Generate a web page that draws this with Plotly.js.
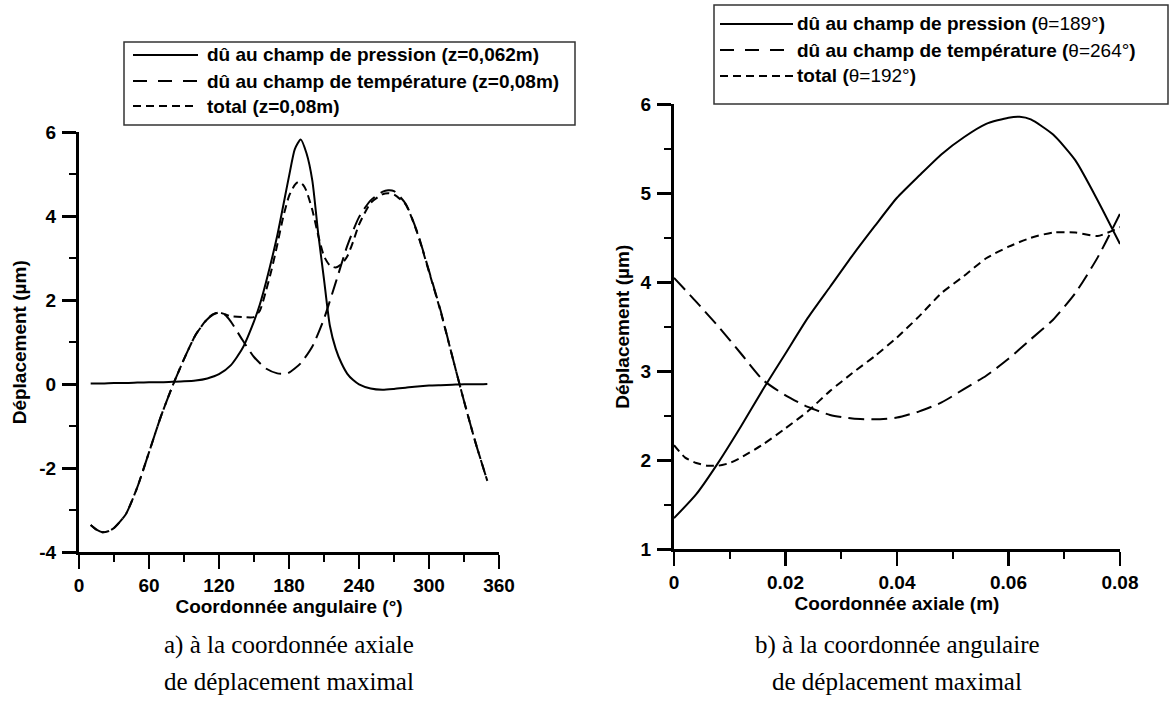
<!DOCTYPE html>
<html>
<head>
<meta charset="utf-8">
<script src="https://cdn.plot.ly/plotly-3.0.1.min.js"></script>
<style>html,body{margin:0;padding:0;background:#fff;}#chart{width:1170px;height:702px;}</style>
</head>
<body>
<div id="chart"></div>
<script>
// ---------- Data: (a) angular coordinate ----------
const angPressX = [10,20,30,40,50,60,70,80,90,100,110,120,130,140,150,155,160,170,180,185,190,195,200,205,210,215,220,225,230,235,240,250,260,270,280,290,300,310,320,330,340,350];
const angPressY = [0.02,0.02,0.03,0.03,0.04,0.05,0.05,0.06,0.07,0.09,0.14,0.24,0.45,0.85,1.5,1.9,2.4,3.55,4.95,5.6,5.83,5.5,4.85,3.6,2.5,1.4,0.85,0.5,0.25,0.1,0.0,-0.1,-0.13,-0.11,-0.08,-0.05,-0.03,-0.02,-0.01,0.0,0.0,0.01];

const angTempX = [10,15,20,25,30,40,50,60,70,80,90,100,110,115,120,125,130,140,150,160,170,175,180,190,200,210,220,230,240,250,260,265,270,280,290,300,310,320,330,340,350];
const angTempY = [-3.35,-3.46,-3.52,-3.5,-3.42,-3.1,-2.45,-1.62,-0.78,-0.05,0.6,1.18,1.55,1.66,1.71,1.66,1.5,1.06,0.65,0.38,0.26,0.25,0.28,0.5,0.9,1.56,2.42,3.3,3.98,4.38,4.58,4.62,4.6,4.3,3.62,2.7,1.75,0.66,-0.4,-1.4,-2.3];

const angTotalX = [10,15,20,25,30,40,50,60,70,80,90,100,110,115,120,125,130,140,150,155,160,165,170,175,180,185,188,192,195,200,205,210,215,220,225,230,235,240,250,260,265,270,280,290,300,310,320,330,340,350];
const angTotalY = [-3.35,-3.46,-3.52,-3.5,-3.42,-3.1,-2.45,-1.62,-0.78,-0.05,0.6,1.18,1.56,1.67,1.71,1.67,1.62,1.6,1.6,1.75,2.2,2.72,3.33,3.98,4.48,4.75,4.82,4.75,4.6,4.15,3.55,3.05,2.83,2.78,2.86,3.05,3.4,3.8,4.32,4.52,4.55,4.52,4.28,3.6,2.68,1.73,0.66,-0.4,-1.4,-2.3];

// ---------- Data: (b) axial coordinate ----------
const axPressX = [0,0.004,0.008,0.012,0.016,0.02,0.024,0.028,0.032,0.036,0.04,0.044,0.048,0.052,0.056,0.06,0.062,0.064,0.068,0.072,0.076,0.08];
const axPressY = [1.35,1.62,1.98,2.38,2.8,3.2,3.6,3.95,4.3,4.63,4.95,5.2,5.44,5.63,5.78,5.85,5.86,5.83,5.66,5.37,4.92,4.43];

const axTempX = [0,0.004,0.008,0.012,0.016,0.02,0.024,0.028,0.032,0.036,0.04,0.044,0.048,0.052,0.056,0.06,0.064,0.068,0.072,0.076,0.08];
const axTempY = [4.05,3.78,3.5,3.2,2.9,2.73,2.6,2.51,2.47,2.46,2.48,2.55,2.65,2.8,2.95,3.14,3.36,3.58,3.88,4.28,4.77];

const axTotalX = [0,0.002,0.004,0.006,0.008,0.01,0.012,0.016,0.02,0.024,0.028,0.032,0.036,0.04,0.044,0.048,0.052,0.056,0.06,0.064,0.068,0.072,0.076,0.08];
const axTotalY = [2.17,2.03,1.97,1.94,1.94,1.97,2.03,2.18,2.36,2.55,2.78,2.98,3.17,3.38,3.62,3.88,4.07,4.27,4.4,4.5,4.56,4.56,4.52,4.62];

// ---------- Tick labels ----------
const angTickVals = [0,60,120,180,240,300,360];
const angTickText = ["0","60","120","180","240","300","360"];
const dispATickVals = [-4,-2,0,2,4,6];
const dispATickText = ["-4","-2","0","2","4","6"];
const axTickVals = [0,0.02,0.04,0.06,0.08];
const axTickText = ["0","0.02","0.04","0.06","0.08"];
const dispBTickVals = [1,2,3,4,5,6];
const dispBTickText = ["1","2","3","4","5","6"];

// ---------- Text ----------
const legendA = ["dû au champ de pression (z=0,062m)", "dû au champ de température (z=0,08m)", "total (z=0,08m)"];
const legendB = ["<b>dû au champ de pression (</b>θ=189°<b>)</b>", "<b>dû au champ de température (</b>θ=264°<b>)</b>", "<b>total (</b>θ=192°<b>)</b>"];
const captionA = ["a) à la coordonnée axiale", "de déplacement maximal"];
const captionB = ["b) à la coordonnée angulaire", "de déplacement maximal"];

// ---------- Layout helpers (pixel -> paper) ----------
const W = 1170, H = 702;
const X = p => p / W;
const Y = p => 1 - p / H;
const SANS = "'Liberation Sans', Arial, sans-serif";
const SERIF = "'Times New Roman', 'Liberation Serif', serif";
const bold19 = {family: SANS, size: 19, color: "#000", weight: 700};
const B = arr => arr.map(t => "<b>" + t + "</b>");

const DASH_LONG = "16px,7px";
const DASH_SHORT = "8px,5px";

function tr(x, y, name, dash, xa, ya) {
  return {x: x, y: y, name: name, type: "scatter", mode: "lines", xaxis: xa, yaxis: ya,
    line: {color: "#000", width: 2, dash: dash, shape: "spline", smoothing: 0.6}, showlegend: false, hoverinfo: "x+y"};
}

const traces = [
  tr(angPressX, angPressY, legendA[0], "solid", "x", "y"),
  tr(angTempX, angTempY, legendA[1], DASH_LONG, "x", "y"),
  tr(angTotalX, angTotalY, legendA[2], DASH_SHORT, "x", "y"),
  tr(axPressX, axPressY, "dû au champ de pression (θ=189°)", "solid", "x2", "y2"),
  tr(axTempX, axTempY, "dû au champ de température (θ=264°)", DASH_LONG, "x2", "y2"),
  tr(axTotalX, axTotalY, "total (θ=192°)", DASH_SHORT, "x2", "y2"),
];

function axisBase(extra) {
  return Object.assign({
    showgrid: false, zeroline: false, showline: true, linecolor: "#000", linewidth: 3,
    ticks: "outside", ticklen: 14, tickwidth: 2.5, tickcolor: "#000", tickmode: "array",
    tickfont: {family: SANS, size: 19, color: "#000", weight: 700}, mirror: false, fixedrange: true
  }, extra);
}

const shapes = [];
const annotations = [];

function legend(box, lineX0, lineX1, textX, rows, labels, bold) {
  shapes.push({type: "rect", xref: "paper", yref: "paper", x0: X(box[0]), x1: X(box[1]), y0: Y(box[3]), y1: Y(box[2]),
    line: {color: "#333", width: 1.5}, fillcolor: "rgba(0,0,0,0)"});
  const dashes = ["solid", "14px,11px", "8px,5px"];
  for (let i = 0; i < 3; i++) {
    shapes.push({type: "line", xref: "paper", yref: "paper", x0: X(lineX0), x1: X(lineX1), y0: Y(rows[i]), y1: Y(rows[i]),
      line: {color: "#000", width: 2, dash: dashes[i]}});
    annotations.push({xref: "paper", yref: "paper", x: X(textX), y: Y(rows[i]), xanchor: "left", yanchor: "middle",
      text: bold ? "<b>" + labels[i] + "</b>" : labels[i], showarrow: false,
      font: {family: SANS, size: 19, color: "#000"}});
  }
}
legend([124, 575, 42, 125], 133, 198, 205, [55, 81, 106], legendA, true);
legend([714, 1168, 5, 104], 720, 793, 795, [24, 50, 76], legendB, false);

function caption(cx, lines) {
  annotations.push({xref: "paper", yref: "paper", x: X(cx), y: Y(645), xanchor: "center", yanchor: "middle",
    text: lines[0], showarrow: false, font: {family: SERIF, size: 25, color: "#000"}});
  annotations.push({xref: "paper", yref: "paper", x: X(cx), y: Y(681), xanchor: "center", yanchor: "middle",
    text: lines[1], showarrow: false, font: {family: SERIF, size: 25, color: "#000"}});
}
caption(289, captionA);
caption(897, captionB);

const minorStyle = {ticklen: 7, tickwidth: 2, tickcolor: "#000", ticks: "outside", tickmode: "linear"};

const layout = {
  width: W, height: H,
  margin: {l: 0, r: 0, t: 0, b: 0},
  paper_bgcolor: "#fff", plot_bgcolor: "#fff",
  showlegend: false,
  xaxis: axisBase({domain: [X(79), X(499)], range: [0, 360], anchor: "y",
    tickvals: angTickVals, ticktext: B(angTickText),
    minor: Object.assign({tick0: 0, dtick: 30}, minorStyle),
    title: {text: "Coordonnée angulaire (°)", font: bold19, standoff: 4}}),
  yaxis: axisBase({domain: [Y(552.3), Y(132.3)], range: [-4, 6], anchor: "x",
    tickvals: dispATickVals, ticktext: B(dispATickText), ticklabelstandoff: 2,
    minor: Object.assign({tick0: 0, dtick: 1}, minorStyle),
    title: {text: "Déplacement (µm)", font: bold19, standoff: 8}}),
  xaxis2: axisBase({domain: [X(674), X(1120)], range: [0, 0.08], anchor: "y2",
    tickvals: axTickVals, ticktext: B(axTickText),
    minor: Object.assign({tick0: 0, dtick: 0.01}, minorStyle),
    title: {text: "Coordonnée axiale (m)", font: bold19, standoff: 4}}),
  yaxis2: axisBase({domain: [Y(549.3), Y(104.3)], range: [1, 6], anchor: "x2",
    tickvals: dispBTickVals, ticktext: B(dispBTickText), ticklabelstandoff: 2,
    minor: Object.assign({tick0: 1, dtick: 0.5}, minorStyle),
    title: {text: "Déplacement (µm)", font: bold19, standoff: 6}}),
  shapes: shapes,
  annotations: annotations
};

Plotly.newPlot("chart", traces, layout, {staticPlot: true, displayModeBar: false});
</script>
</body>
</html>
